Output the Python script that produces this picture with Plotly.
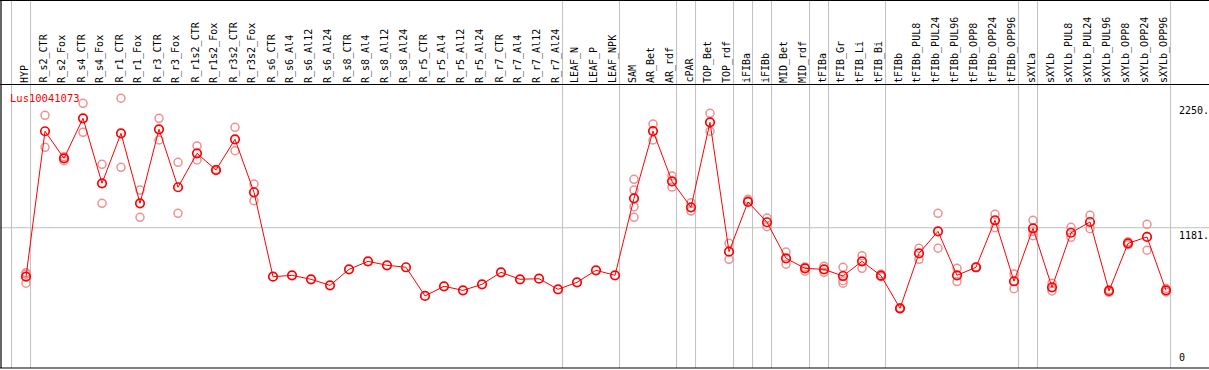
import plotly.graph_objects as go

categories = ["HYP", "R_s2_CTR", "R_s2_Fox", "R_s4_CTR", "R_s4_Fox", "R_r1_CTR", "R_r1_Fox",
              "R_r3_CTR", "R_r3_Fox", "R_r1s2_CTR", "R_r1s2_Fox", "R_r3s2_CTR", "R_r3s2_Fox",
              "R_s6_CTR", "R_s6_Al4", "R_s6_Al12", "R_s6_Al24", "R_s8_CTR", "R_s8_Al4", "R_s8_Al12",
              "R_s8_Al24", "R_r5_CTR", "R_r5_Al4", "R_r5_Al12", "R_r5_Al24", "R_r7_CTR", "R_r7_Al4",
              "R_r7_Al12", "R_r7_Al24", "LEAF_N", "LEAF_P", "LEAF_NPK", "SAM", "AR_Bet", "AR_rdf",
              "cPAR", "TOP_Bet", "TOP_rdf", "iFIBa", "iFIBb", "MID_Bet", "MID_rdf", "tFIBa",
              "tFIB_Gr", "tFIB_Li", "tFIB_Bi", "tFIBb", "tFIBb_PUL8", "tFIBb_PUL24", "tFIBb_PUL96",
              "tFIBb_OPP8", "tFIBb_OPP24", "tFIBb_OPP96", "sXYLa", "sXYLb", "sXYLb_PUL8",
              "sXYLb_PUL24", "sXYLb_PUL96", "sXYLb_OPP8", "sXYLb_OPP24", "sXYLb_OPP96"]

mean_values = [761, 2008, 1776, 2119, 1562, 1990, 1390, 2025, 1528, 1819, 1676, 1939, 1485,
               761, 773, 739, 687, 824, 893, 859, 842, 596, 679, 644, 696, 799, 739, 744, 653,
               713, 816, 773, 1433, 2010, 1579, 1356, 2085, 976, 1402, 1228, 919, 833, 824,
               767, 893, 770, 490, 962, 1150, 773, 842, 1245, 722, 1176, 670, 1138, 1230, 639,
               1047, 1102, 644]

replicate_values = [
    [796, 784, 705], [2145, 1870], [1790, 1756], [2248, 1999], [1725, 1390], [2291, 1699],
    [1504, 1270], [2119, 1933], [1742, 1305], [1882, 1762], [1680, 1670], [2042, 1841],
    [1556, 1413],
    [], [], [], [], [], [], [], [], [], [], [], [], [], [], [], [], [], [], [],
    [1596, 1504, 1361, 1270], [2070, 1933], [1625, 1530], [1396, 1324], [2162, 2008],
    [1047, 910], [1425, 1410], [1264, 1190], [973, 868], [845, 808], [851, 799],
    [842, 727, 705], [941, 833], [784, 761], [495, 485], [1005, 910], [1305, 1005],
    [833, 719], [845, 839], [1296, 1181], [784, 658], [1245, 1113, 1150], [705, 639],
    [1185, 1099], [1288, 1173], [650, 627], [1060, 1035], [1210, 988], [660, 630],
]

# group separators: vertical line drawn after these category indices
separators_after = [-1, 0, 28, 31, 34, 35, 37, 38, 39, 41, 42, 45, 52, 53, 60]

y_tick_values = [2250, 1181, 0]
y_tick_labels = ["2250.", "1181.", "0"]
gene_name = "Lus10041073"

W, H = 1209, 370
M_T, M_B = 85, 2
X_RANGE = [-26 / 19, (W - 26) / 19]
Y_RANGE = [-21.5, 2404.6]
plot_h = H - M_T - M_B
top_paper = 1 + M_T / plot_h

rep_x, rep_y = [], []
for cat, reps in zip(categories, replicate_values):
    for v in reps:
        rep_x.append(cat)
        rep_y.append(v)

fig = go.Figure()
fig.add_trace(go.Scatter(
    x=rep_x, y=rep_y, mode="markers",
    marker=dict(symbol="circle-open", size=8, color="rgb(238,145,145)",
                line=dict(width=1.5, color="rgb(238,145,145)")),
    hoverinfo="skip", showlegend=False))
fig.add_trace(go.Scatter(
    x=categories, y=mean_values, mode="lines+markers",
    line=dict(color="#ff0000", width=1),
    marker=dict(symbol="circle-open", size=8.5, color="#ff0000",
                line=dict(width=1.7, color="#ff0000")),
    showlegend=False))

shapes = []
for i in separators_after:
    shapes.append(dict(type="line", xref="x", yref="paper", x0=i + 0.24, x1=i + 0.24,
                       y0=0, y1=top_paper, line=dict(color="#c0c0c0", width=1), layer="below"))
shapes.append(dict(type="line", xref="paper", yref="y", x0=0, x1=1,
                   y0=y_tick_values[1], y1=y_tick_values[1],
                   line=dict(color="#c0c0c0", width=1), layer="below"))
black = dict(color="black", width=1.2)
shapes.append(dict(type="line", xref="paper", yref="paper", x0=0, x1=1,
                   y0=1 + 0.5 / plot_h, y1=1 + 0.5 / plot_h, line=black))
shapes.append(dict(type="line", xref="paper", yref="paper", x0=0, x1=1, y0=0, y1=0, line=black))
shapes.append(dict(type="line", xref="paper", yref="paper", x0=0, x1=1,
                   y0=top_paper - 0.5 / plot_h, y1=top_paper - 0.5 / plot_h, line=black))
shapes.append(dict(type="line", xref="paper", yref="paper", x0=1 / W, x1=1 / W,
                   y0=0, y1=top_paper, line=black))

annotations = []
for cat in categories:
    annotations.append(dict(x=cat, xref="x", y=1, yref="paper", text=cat, textangle=-90,
                            showarrow=False, xanchor="center", yanchor="bottom", xshift=-2,
                            yshift=0,
                            font=dict(family="DejaVu Sans Mono", size=10, color="black")))
annotations.append(dict(x=8 / W, xref="paper", y=1, yref="paper", text=gene_name,
                        showarrow=False, xanchor="left", yanchor="top", yshift=-5,
                        font=dict(family="DejaVu Sans Mono", size=10.5, color="#ff0000")))
for v, t in zip(y_tick_values, y_tick_labels):
    annotations.append(dict(x=1177 / W, xref="paper", y=v, yref="y", text=t,
                            showarrow=False, xanchor="left",
                            yanchor="bottom" if v == 0 else "top",
                            yshift=0,
                            font=dict(family="DejaVu Sans Mono", size=10, color="black")))

fig.update_layout(
    width=W, height=H,
    margin=dict(l=0, r=0, t=M_T, b=M_B, pad=0),
    paper_bgcolor="white", plot_bgcolor="white",
    xaxis=dict(type="category", categoryorder="array", categoryarray=categories,
               range=X_RANGE, showgrid=False, showticklabels=False, zeroline=False,
               showline=False, ticks=""),
    yaxis=dict(range=Y_RANGE, showgrid=False, showticklabels=False, zeroline=False,
               showline=False, ticks=""),
    shapes=shapes, annotations=annotations,
)

fig.write_html("out.html", config={"displayModeBar": False},
               post_script="document.body.style.margin='0';document.body.style.overflow='hidden';")
